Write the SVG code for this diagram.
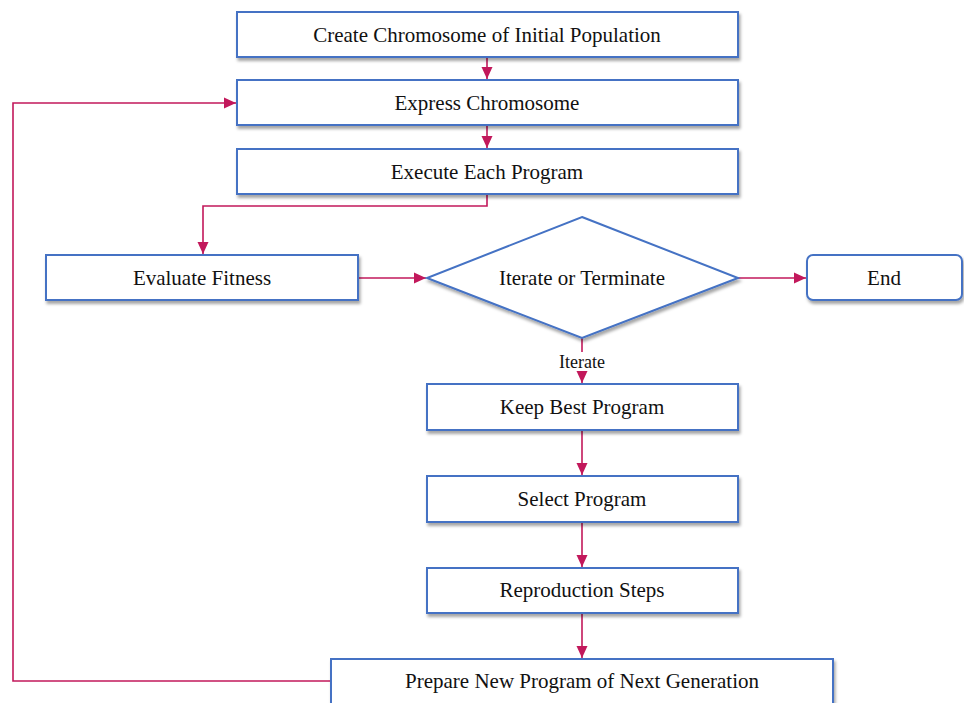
<svg xmlns="http://www.w3.org/2000/svg" width="964" height="703" viewBox="0 0 964 703">
<defs>
<filter id="sh" x="-5%" y="-20%" width="110%" height="150%">
<feDropShadow dx="1.5" dy="3" stdDeviation="1.5" flood-color="#000" flood-opacity="0.35"/>
</filter>
<marker id="ah" markerWidth="14" markerHeight="14" refX="12" refY="6.5" orient="auto" markerUnits="userSpaceOnUse">
<path d="M0,1 L12,6.5 L0,12 Z" fill="#C2185B"/>
</marker>
<style>
.n{fill:#fff;stroke:#4472C4;stroke-width:2;filter:url(#sh)}
.t{font-family:"Liberation Serif","Times New Roman",serif;font-size:21px;fill:#111;text-anchor:middle;dominant-baseline:central}
.s{font-family:"Liberation Serif","Times New Roman",serif;font-size:18px;fill:#111;text-anchor:middle;dominant-baseline:central}
.c{fill:none;stroke:#C2185B;stroke-width:1.6}
</style>
</defs>
<rect width="964" height="703" fill="#fff"/>
<g id="connectors">
<path class="c" d="M487,57 V79" marker-end="url(#ah)"/>
<path class="c" d="M487,125 V148" marker-end="url(#ah)"/>
<path class="c" d="M487,194 V206 H203 V254" marker-end="url(#ah)"/>
<path class="c" d="M358,278 H426" marker-end="url(#ah)"/>
<path class="c" d="M738,278 H806" marker-end="url(#ah)"/>
<path class="c" d="M582,338 V352"/>
<path class="c" d="M582,372 V383" marker-end="url(#ah)"/>
<path class="c" d="M582,430 V475" marker-end="url(#ah)"/>
<path class="c" d="M582,522 V567" marker-end="url(#ah)"/>
<path class="c" d="M582,613 V658" marker-end="url(#ah)"/>
<path class="c" d="M331,681 H13 V103 H236" marker-end="url(#ah)"/>
<text class="s" x="582" y="362">Iterate</text>
</g>
<g id="create"><rect class="n" x="237" y="12" width="501" height="45"/><text class="t" x="487" y="35">Create Chromosome of Initial Population</text></g>
<g id="express"><rect class="n" x="237" y="80" width="501" height="45"/><text class="t" x="487" y="103">Express Chromosome</text></g>
<g id="execute"><rect class="n" x="237" y="149" width="501" height="45"/><text class="t" x="487" y="172">Execute Each Program</text></g>
<g id="evaluate"><rect class="n" x="46" y="255" width="312" height="45"/><text class="t" x="202" y="278">Evaluate Fitness</text></g>
<g id="decision"><polygon class="n" points="582,217 738,278 582,338 427,278"/><text class="t" x="582" y="278">Iterate or Terminate</text></g>
<g id="end"><rect class="n" x="807" y="255" width="155" height="45" rx="6"/><text class="t" x="884" y="278">End</text></g>
<g id="keep"><rect class="n" x="427" y="384" width="311" height="46"/><text class="t" x="582" y="407">Keep Best Program</text></g>
<g id="select"><rect class="n" x="427" y="476" width="311" height="46"/><text class="t" x="582" y="499">Select Program</text></g>
<g id="repro"><rect class="n" x="427" y="568" width="311" height="45"/><text class="t" x="582" y="590">Reproduction Steps</text></g>
<g id="prepare"><rect class="n" x="331" y="659" width="502" height="60"/><text class="t" x="582" y="681">Prepare New Program of Next Generation</text></g>
</svg>
